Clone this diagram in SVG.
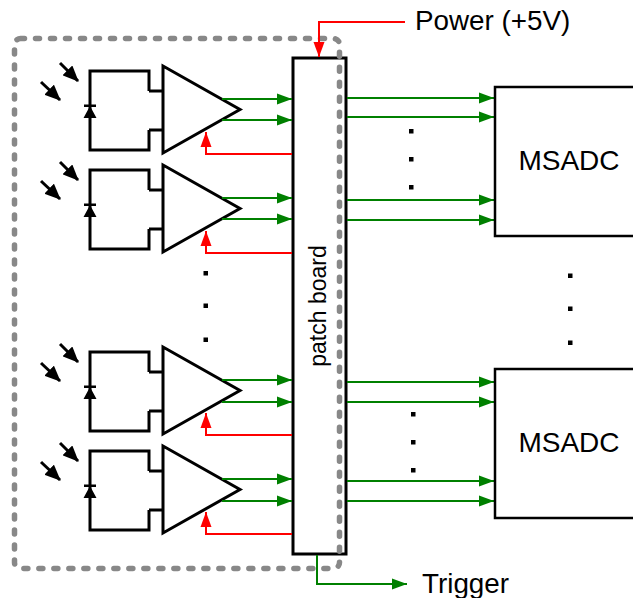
<svg xmlns="http://www.w3.org/2000/svg" xmlns:xlink="http://www.w3.org/1999/xlink" width="633" height="598" viewBox="0 0 633 598">
<style>
text{font-family:"Liberation Sans",Arial,sans-serif;fill:#000}
.k{fill:none;stroke:#000;stroke-width:3}
.g{fill:none;stroke:#008000;stroke-width:2;marker-end:url(#ga)}
.r{fill:none;stroke:#f00;stroke-width:2;marker-end:url(#ra)}
.b{fill:none;stroke:#000;stroke-width:3;marker-end:url(#ba)}
.d{fill:#000}
</style>
<defs>
<marker id="ga" markerUnits="userSpaceOnUse" markerWidth="16" markerHeight="12" refX="15" refY="6" orient="auto"><path d="M0 0.500L15 6L0 11.500Z" fill="#008000"/></marker>
<marker id="ra" markerUnits="userSpaceOnUse" markerWidth="16" markerHeight="12" refX="15" refY="6" orient="auto"><path d="M0 0.500L15 6L0 11.500Z" fill="#f00"/></marker>
<marker id="ba" markerUnits="userSpaceOnUse" markerWidth="16" markerHeight="14" refX="15" refY="7" orient="auto"><path d="M0 0L16 7L0 14Z" fill="#000"/></marker>
<g id="amp">
<path class="k" d="M149 91V71H90V150H149V130M149 91H163M149 130H163"/>
<path d="M163 66L240 109.500L163 153Z" fill="#fff" stroke="#000" stroke-width="3"/>
<path d="M83.500 118L90 106L96.500 118Z M84 104.500H96V107H84Z" fill="#000"/>
<path class="b" d="M60 63L78 81"/>
<path class="b" d="M41 82L60 100"/>
</g>
</defs>
<g id="frontend-1"><use href="#amp"/></g>
<g id="frontend-2"><use href="#amp" y="99"/></g>
<g id="frontend-3"><use href="#amp" y="281"/></g>
<g id="frontend-4"><use href="#amp" y="380"/></g>
<g id="patch-board">
<rect x="293" y="58" width="53" height="496" fill="#fff" stroke="#000" stroke-width="3"/>
<text transform="translate(326 306) rotate(-90)" text-anchor="middle" font-size="23">patch board</text>
</g>
<g id="frame"><rect x="14.500" y="38.500" width="325" height="530" rx="6" fill="none" stroke="#888" stroke-width="5.500" stroke-linecap="round" stroke-dasharray="4 11"/></g>
<g id="connectors">
<path class="g" d="M222 99H292"/><path class="g" d="M222 120H292"/><path class="r" d="M292 154H206V132"/>
<path class="g" d="M222 198H292"/><path class="g" d="M222 219H292"/><path class="r" d="M292 253H206V231"/>
<path class="g" d="M222 380H292"/><path class="g" d="M222 402H292"/><path class="r" d="M292 435H206V413"/>
<path class="g" d="M222 479H292"/><path class="g" d="M222 501H292"/><path class="r" d="M292 534H206V512"/>
<path class="g" d="M347 98H494"/><path class="g" d="M347 117H494"/><path class="g" d="M347 200H494"/><path class="g" d="M347 220H494"/>
<path class="g" d="M347 382H494"/><path class="g" d="M347 402H494"/><path class="g" d="M347 481H494"/><path class="g" d="M347 501H494"/>
<path class="r" d="M405 22H319V57"/>
<path class="g" d="M317 555V584H407"/>
</g>
<g id="msadc-1"><rect x="495" y="87" width="150" height="149" fill="#fff" stroke="#000" stroke-width="2.500"/><text x="569" y="170" text-anchor="middle" font-size="28">MSADC</text></g>
<g id="msadc-2"><rect x="495" y="369" width="150" height="149" fill="#fff" stroke="#000" stroke-width="2.500"/><text x="569" y="451.500" text-anchor="middle" font-size="28">MSADC</text></g>
<g id="dots">
<rect class="d" x="203.500" y="271" width="4.500" height="4.500"/><rect class="d" x="203.500" y="303.500" width="4.500" height="4.500"/><rect class="d" x="203.500" y="337.500" width="4.500" height="4.500"/>
<rect class="d" x="409" y="129" width="4.500" height="4.500"/><rect class="d" x="409" y="157" width="4.500" height="4.500"/><rect class="d" x="409" y="185" width="4.500" height="4.500"/>
<rect class="d" x="411" y="412" width="4.500" height="4.500"/><rect class="d" x="411" y="440" width="4.500" height="4.500"/><rect class="d" x="411" y="468" width="4.500" height="4.500"/>
<rect class="d" x="568" y="273.500" width="4.500" height="4.500"/><rect class="d" x="568" y="306.500" width="4.500" height="4.500"/><rect class="d" x="568" y="340.500" width="4.500" height="4.500"/>
</g>
<g id="labels">
<text x="415" y="30" font-size="27.800">Power (+5V)</text>
<text x="422" y="593" font-size="27.800">Trigger</text>
</g>
</svg>
